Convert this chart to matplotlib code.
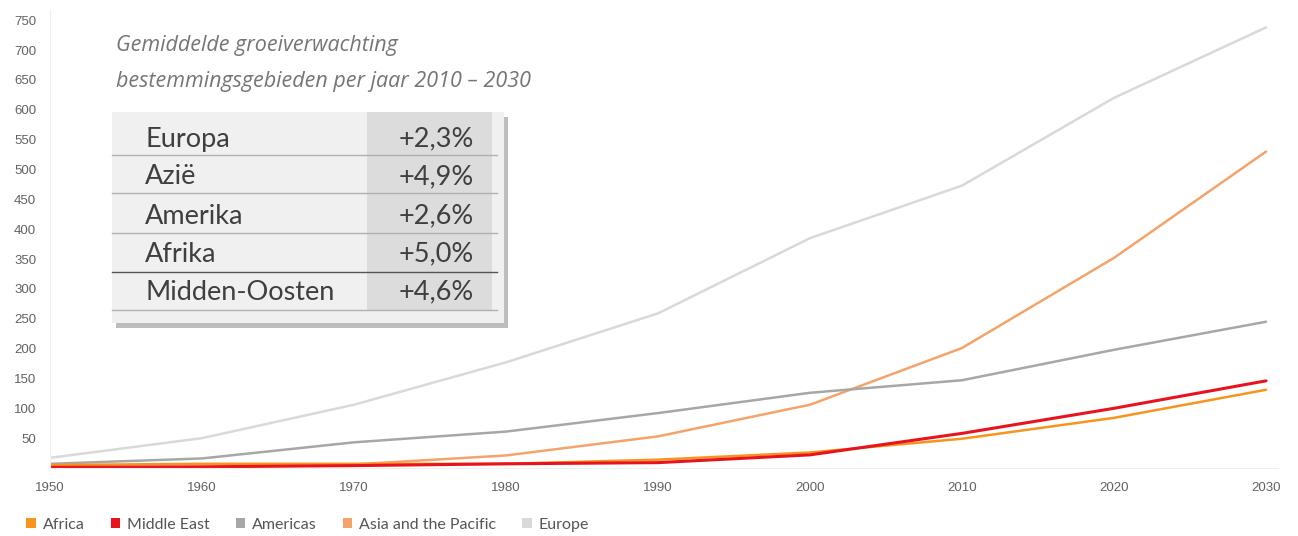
import matplotlib.pyplot as plt
from matplotlib.patches import Rectangle, Patch

# ==== data ====
years = [1950, 1960, 1970, 1980, 1990, 2000, 2010, 2020, 2030]
africa = [5, 7, 7, 7, 14, 26, 49, 84, 131]
middle_east = [1, 2, 4, 7, 9, 22, 58, 100, 146]
americas = [7, 16, 43, 61, 92, 126, 147, 198, 245]
asia_pacific = [0.5, 1, 6, 21, 53, 106, 201, 352, 530]
europe = [17, 50, 106, 177, 259, 385, 473, 620, 738]

series_names = ["Africa", "Middle East", "Americas", "Asia and the Pacific", "Europe"]
series_values = [africa, middle_east, americas, asia_pacific, europe]
series_colors = ["#f7941d", "#e8141d", "#a6a8a6", "#f4a46a", "#d8dad8"]

yticks = list(range(50, 751, 50))

table_regions = ["Europa", "Azië", "Amerika", "Afrika", "Midden-Oosten"]
table_growth = ["+2,3%", "+4,9%", "+2,6%", "+5,0%", "+4,6%"]

title_lines = ["Gemiddelde groeiverwachting",
               "bestemmingsgebieden per jaar 2010 – 2030"]

W, H = 1298, 536
fig = plt.figure(figsize=(W / 100, H / 100), dpi=100)

# main axes, placed in pixels
x0, x1, ytop, ybot = 50, 1278, 10, 468
ax = fig.add_axes([x0 / W, (H - ybot) / H, (x1 - x0) / W, (ybot - ytop) / H])

# draw back to front so the lighter lines sit behind
order = [4, 3, 2, 0, 1]
for i in order:
    ax.plot(years, series_values[i], color=series_colors[i],
            lw=2.2 if i == 1 else 1.8, solid_capstyle="round")

ax.set_xlim(1950, 2030 + 12 / 15.225)
ax.set_ylim(0, (ybot - ytop) / 0.597)
ax.set_xticks(years)
ax.set_yticks(yticks)
ax.tick_params(length=0, labelsize=9.5, colors="#626262")
ax.tick_params(axis="y", pad=10)
ax.tick_params(axis="x", pad=10)
for lab in ax.get_xticklabels() + ax.get_yticklabels():
    lab.set_family("Liberation Sans")
for s in ["top", "right"]:
    ax.spines[s].set_visible(False)
ax.spines["left"].set_color("#eeeeee")
ax.spines["bottom"].set_color("#eeeeee")

# overlay in pixel coordinates for the inset table
ov = fig.add_axes([0, 0, 1, 1], facecolor="none")
ov.set_xlim(0, W)
ov.set_ylim(H, 0)
ov.axis("off")

grey_txt = "#757575"
ov.text(116, 45, title_lines[0], fontsize=15.5, style="italic", color=grey_txt,
        family="Open Sans", va="center")
ov.text(116, 82, title_lines[1], fontsize=15.5, style="italic", color=grey_txt,
        family="Open Sans", va="center")

# shadow + box
ov.add_patch(Rectangle((116, 117), 392, 211, facecolor="#bdbdbd", edgecolor="none"))
ov.add_patch(Rectangle((112, 112), 392, 211, facecolor="#f0f0f0", edgecolor="none"))
ov.add_patch(Rectangle((367, 112), 125, 198, facecolor="#dcdcdc", edgecolor="none"))

row_y = [139, 177, 216, 254, 292]
sep_y = [155, 193, 233, 272, 310]
for k, (name, g) in enumerate(zip(table_regions, table_growth)):
    ov.text(145, row_y[k], name, fontsize=19.5, color="#3f3f3f",
            family="Lato", va="center")
    ov.text(474, row_y[k], g, fontsize=19.5, color="#3f3f3f",
            family="Lato", va="center", ha="right")
    ov.plot([112, 497], [sep_y[k], sep_y[k]],
            color="#555555" if k == 3 else "#b0b0b0", lw=1.0)

handles = [Patch(facecolor=c, edgecolor="none", label=n)
           for n, c in zip(series_names, series_colors)]
leg = fig.legend(handles=handles, loc="center left",
                 bbox_to_anchor=(12 / W, (H - 525) / H), ncol=5, frameon=False,
                 handlelength=0.6, handleheight=0.6, handletextpad=0.45,
                 columnspacing=1.6, prop={"family": "Lato", "size": 11.5})
for t in leg.get_texts():
    t.set_color("#555555")

fig.savefig("out.png", dpi=100)
